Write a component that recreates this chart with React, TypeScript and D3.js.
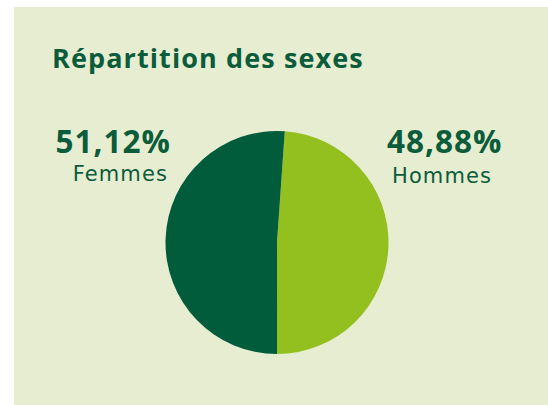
import React, {useEffect, useRef} from 'react';
import * as d3 from 'd3';

// data
const categories = ['Hommes', 'Femmes'];
const shares = [48.88, 51.12];
const sliceColors = ['#93c01f', '#005c3b'];
const chartTitle = 'Répartition des sexes';

const W = 548;
const H = 405;

const fmt = (v: number) => v.toFixed(2).replace('.', ',') + '%';

const App = () => {
    const svgRef = useRef<SVGSVGElement>(null);

    useEffect(() => {
        const svg = d3.select(svgRef.current);
        svg.selectAll('*').remove();

        svg.append('rect')
            .attr('x', 14).attr('y', 7)
            .attr('width', W - 14).attr('height', H - 7)
            .attr('fill', '#e7edd0');

        svg.append('text')
            .attr('x', 52).attr('y', 68)
            .attr('fill', '#0b5c3b')
            .attr('font-family', 'Open Sans')
            .attr('font-weight', 700)
            .attr('font-size', 27)
            .attr('letter-spacing', 1.1)
            .text(chartTitle);

        const cx = 277, cy = 242.5, r = 111.5;
        const startDeg = 4;
        const pie = d3.pie<number>()
            .sort(null)
            .startAngle(startDeg * Math.PI / 180)
            .endAngle((startDeg + 360) * Math.PI / 180);
        const arc = d3.arc<d3.PieArcDatum<number>>().innerRadius(0).outerRadius(r);

        const g = svg.append('g').attr('transform', `translate(${cx},${cy})`);
        g.selectAll('path')
            .data(pie(shares))
            .join('path')
            .attr('d', arc)
            .attr('fill', (d, i) => sliceColors[i]);

        // labels: Hommes on the right, Femmes on the left
        const labelPos = [
            {x: 387, anchor: 'start', sub: 392},
            {x: 171, anchor: 'end', sub: 168},
        ];
        categories.forEach((c, i) => {
            const p = labelPos[i];
            svg.append('text')
                .attr('x', p.x).attr('y', 153)
                .attr('text-anchor', p.anchor)
                .attr('fill', '#0b5c3b')
                .attr('font-family', 'Open Sans')
                .attr('font-weight', 700)
                .attr('font-size', 31.5)
                .attr('letter-spacing', 1)
                .text(fmt(shares[i]));
            svg.append('text')
                .attr('x', p.sub).attr('y', i === 0 ? 183 : 181)
                .attr('text-anchor', p.anchor)
                .attr('fill', '#0b5c3b')
                .attr('font-family', 'DejaVu Sans')
                .attr('font-size', 21)
                .attr('letter-spacing', 1.1)
                .text(c);
        });
    }, []);

    return (
        <svg ref={svgRef} width={W} height={H}
             style={{position: 'absolute', left: 0, top: 0, background: '#fff'}}/>
    );
};

export default App;
